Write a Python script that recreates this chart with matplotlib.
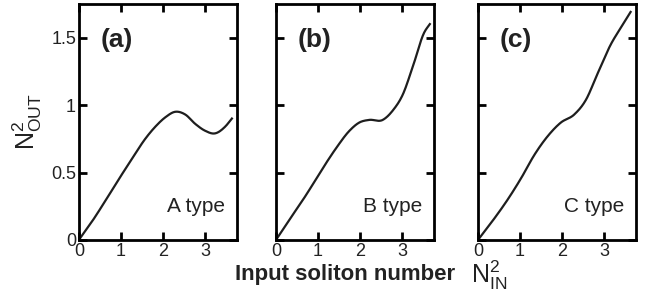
import numpy as np
import matplotlib
matplotlib.use('Agg')
from matplotlib import pyplot as plt

plt.rcParams['font.family'] = ['Liberation Sans', 'DejaVu Sans']
plt.rcParams['mathtext.fontset'] = 'custom'
plt.rcParams['mathtext.rm'] = 'Liberation Sans'

x_a = [0, 0.32, 0.67, 0.95, 1.26, 1.58, 1.82, 2.06, 2.29, 2.53, 2.77, 3.0, 3.24, 3.48, 3.64]
y_a = [0, 0.14, 0.31, 0.45, 0.60, 0.75, 0.84, 0.91, 0.95, 0.93, 0.86, 0.81, 0.79, 0.84, 0.90]

x_b = [0, 0.32, 0.71, 1.11, 1.43, 1.75, 1.98, 2.22, 2.54, 2.78, 3.02, 3.25, 3.53, 3.66]
y_b = [0, 0.15, 0.33, 0.53, 0.68, 0.81, 0.87, 0.89, 0.89, 0.96, 1.08, 1.28, 1.54, 1.60]

x_c = [0, 0.32, 0.75, 1.03, 1.34, 1.66, 1.97, 2.29, 2.57, 2.84, 3.16, 3.39, 3.63]
y_c = [0, 0.13, 0.32, 0.46, 0.63, 0.77, 0.87, 0.93, 1.04, 1.23, 1.45, 1.57, 1.69]

panele = ['(a)', '(b)', '(c)']
typy = ['A type', 'B type', 'C type']
dane = [(x_a, y_a), (x_b, y_b), (x_c, y_c)]

x_ticks = [0, 1, 2, 3]
y_ticks = [0, 0.5, 1, 1.5]
y_tick_labels = ['0', '0.5', '1', '1.5']


def gladko(x, y, n=300):
    # gladka linia przez odczytane punkty (hermite, bez scipy)
    x = np.asarray(x, float)
    y = np.asarray(y, float)
    h = np.diff(x)
    d = np.diff(y) / h
    m = np.zeros_like(y)
    m[0], m[-1] = d[0], d[-1]
    for k in range(1, len(x) - 1):
        m[k] = (d[k - 1] * h[k] + d[k] * h[k - 1]) / (h[k] + h[k - 1])
    xs = np.linspace(x[0], x[-1], n)
    idx = np.clip(np.searchsorted(x, xs) - 1, 0, len(h) - 1)
    t = (xs - x[idx]) / h[idx]
    h00 = 2 * t**3 - 3 * t**2 + 1
    h10 = t**3 - 2 * t**2 + t
    h01 = -2 * t**3 + 3 * t**2
    h11 = t**3 - t**2
    ys = h00 * y[idx] + h10 * h[idx] * m[idx] + h01 * y[idx + 1] + h11 * h[idx] * m[idx + 1]
    return xs, ys


fig = plt.figure(figsize=(6.57, 2.97), dpi=100)
lefts = [0.120, 0.420, 0.7275]
w = 0.240
b0 = 0.192
h = 0.795

for i in range(3):
    ax = fig.add_axes([lefts[i], b0, w, h])
    xs, ys = gladko(*dane[i])
    ax.plot(xs, ys, color='#1e1e1e', lw=1.6)
    ax.set_xlim(0, 3.75)
    ax.set_ylim(0, 1.75)
    ax.set_xticks(x_ticks)
    ax.set_yticks(y_ticks)
    ax.tick_params(direction='in', length=6, width=2, top=True, right=True,
                   labelsize=13, pad=2, labelcolor='#222222')
    if i == 0:
        ax.set_yticklabels(y_tick_labels)
    else:
        ax.set_yticklabels([])
    for s in ax.spines.values():
        s.set_linewidth(2)
    ax.text(0.14, 0.845, panele[i], transform=ax.transAxes, fontsize=19,
            fontweight='bold', ha='left', va='center', color='#222222')
    ax.text(0.925, 0.14, typy[i], transform=ax.transAxes, fontsize=15,
            ha='right', va='center', color='#222222')

fig.text(27 / 657, 0.59, r'N$^2_{\mathrm{OUT}}$', fontsize=18, rotation=90,
         ha='center', va='center', color='#222222')
fig.text(0.525, 0.077, 'Input soliton number', fontsize=16, fontweight='bold',
         ha='center', va='center', color='#222222')
fig.text(0.717, 0.047, r'N$^2_{\mathrm{IN}}$', fontsize=18, ha='left',
         va='baseline', color='#222222')

fig.savefig('out.png', dpi=100)
